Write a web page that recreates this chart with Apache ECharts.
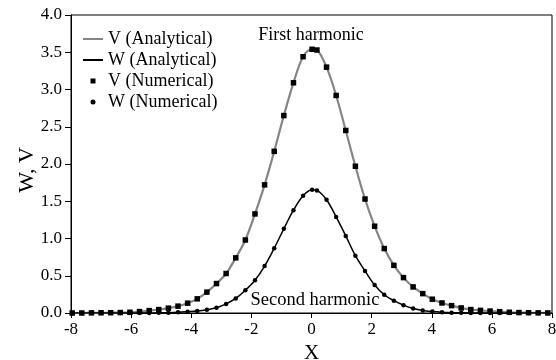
<!DOCTYPE html>
<html>
<head>
<meta charset="utf-8">
<script src="https://cdn.jsdelivr.net/npm/echarts@6/dist/echarts.min.js"></script>
<style>
  html, body { margin: 0; padding: 0; background: #fff; }
  #chart { width: 556px; height: 360px; }
</style>
</head>
<body>
<div id="chart"></div>
<script>
// sample positions (x) shared by both harmonics
const xGrid = [-7.96, -7.64, -7.32, -7.0, -6.68, -6.36, -6.04, -5.72, -5.4, -5.08,
  -4.76, -4.44, -4.12, -3.8, -3.48, -3.16, -2.84, -2.52, -2.2, -1.88,
  -1.56, -1.24, -0.92, -0.6, -0.28, 0.02, 0.18, 0.5, 0.82, 1.14,
  1.46, 1.78, 2.1, 2.42, 2.74, 3.06, 3.38, 3.7, 4.02, 4.34,
  4.66, 4.98, 5.3, 5.62, 5.94, 6.26, 6.58, 6.9, 7.22, 7.54, 7.86]

// first harmonic V
const vValues = [0, 0, 0.002, 0.003, 0.004, 0.006, 0.01, 0.019, 0.032, 0.046,
  0.065, 0.092, 0.132, 0.19, 0.28, 0.395, 0.53, 0.74, 0.98, 1.33,
  1.72, 2.17, 2.65, 3.09, 3.44, 3.54, 3.53, 3.30, 2.92, 2.45,
  1.97, 1.53, 1.165, 0.865, 0.64, 0.475, 0.35, 0.26, 0.185, 0.135,
  0.099, 0.068, 0.046, 0.035, 0.026, 0.018, 0.01, 0.006, 0.004, 0.002, 0.001]

// second harmonic W
const wValues = [0, 0, 0, 0, 0, 0, 0, 0, 0.001, 0.002,
  0.005, 0.01, 0.018, 0.027, 0.044, 0.07, 0.122, 0.195, 0.305, 0.44,
  0.63, 0.87, 1.13, 1.38, 1.575, 1.655, 1.645, 1.52, 1.29, 1.035,
  0.77, 0.565, 0.375, 0.245, 0.165, 0.105, 0.06, 0.033, 0.019, 0.01,
  0.005, 0.003, 0.001, 0, 0, 0, 0, 0, 0, 0, 0]

const seriesNames = ['V (Analytical)', 'W (Analytical)', 'V (Numerical)', 'W (Numerical)']

const pairs = (ys) => xGrid.map((x, i) => [x, ys[i]])

const font = 'Liberation Serif'
const chart = echarts.init(document.getElementById('chart'))

chart.setOption({
  animation: false,
  grid: {
    left: 71, right: 4, top: 15, bottom: 47,
    outerBoundsMode: 'none',
    show: true, borderColor: '#000', borderWidth: 1,
  },
  legend: {
    orient: 'vertical',
    left: 82, top: 29, padding: 0,
    itemWidth: 20, itemHeight: 5, itemGap: 1,
    textStyle: { fontFamily: font, fontSize: 18, color: '#000', lineHeight: 20 },
    data: [
      { name: seriesNames[0], itemStyle: { opacity: 0 } },
      { name: seriesNames[1], itemStyle: { opacity: 0 } },
      { name: seriesNames[2], icon: 'path://M0,0H1V1H0Z' },
      { name: seriesNames[3], icon: 'circle' },
    ],
  },
  xAxis: {
    type: 'value',
    min: -8, max: 8, interval: 2,
    name: 'X',
    nameLocation: 'middle',
    nameGap: 28,
    nameTextStyle: { fontFamily: font, fontSize: 21, color: '#000' },
    axisLine: { lineStyle: { color: '#000', width: 1 } },
    axisTick: { length: 5, lineStyle: { color: '#000' } },
    axisLabel: { fontFamily: font, fontSize: 17, color: '#000', margin: 8 },
    splitLine: { show: false },
  },
  yAxis: {
    type: 'value',
    min: 0, max: 4, interval: 0.5,
    name: 'W, V',
    nameLocation: 'middle',
    nameGap: 33,
    nameMoveOverlap: false,
    nameTextStyle: { fontFamily: font, fontSize: 22, color: '#000', padding: [0, 12, 0, 0] },
    axisLine: { show: true, onZero: false, lineStyle: { color: '#000', width: 1 } },
    axisTick: { show: true, length: 6, lineStyle: { color: '#000' } },
    axisLabel: {
      fontFamily: font, fontSize: 17, color: '#000', margin: 9,
      formatter: (v) => v.toFixed(1),
    },
    splitLine: { show: false },
  },
  graphic: [
    {
      type: 'text', x: 311, y: 35,
      style: { text: 'First harmonic', font: '18px "Liberation Serif"', fill: '#000', align: 'center', verticalAlign: 'middle' },
    },
    {
      type: 'text', x: 315, y: 300,
      style: { text: 'Second harmonic', font: '18.5px "Liberation Serif"', fill: '#000', align: 'center', verticalAlign: 'middle' },
    },
  ],
  series: [
    {
      name: seriesNames[0],
      type: 'line',
      symbol: 'none',
      smooth: 0.35,
      data: pairs(vValues),
      lineStyle: { color: '#858585', width: 2.2 },
      itemStyle: { color: '#858585' },
      z: 2,
    },
    {
      name: seriesNames[1],
      type: 'line',
      symbol: 'none',
      smooth: 0.35,
      data: pairs(wValues),
      lineStyle: { color: '#000', width: 1.5 },
      itemStyle: { color: '#000' },
      z: 2,
    },
    {
      name: seriesNames[2],
      type: 'scatter',
      symbol: 'rect',
      symbolSize: 5.5,
      data: pairs(vValues),
      itemStyle: { color: '#000', opacity: 1 },
      z: 3,
    },
    {
      name: seriesNames[3],
      type: 'scatter',
      symbol: 'circle',
      symbolSize: 4.5,
      data: pairs(wValues),
      itemStyle: { color: '#000', opacity: 1 },
      z: 3,
    },
  ],
})

window.addEventListener('resize', () => chart.resize())
</script>
</body>
</html>
